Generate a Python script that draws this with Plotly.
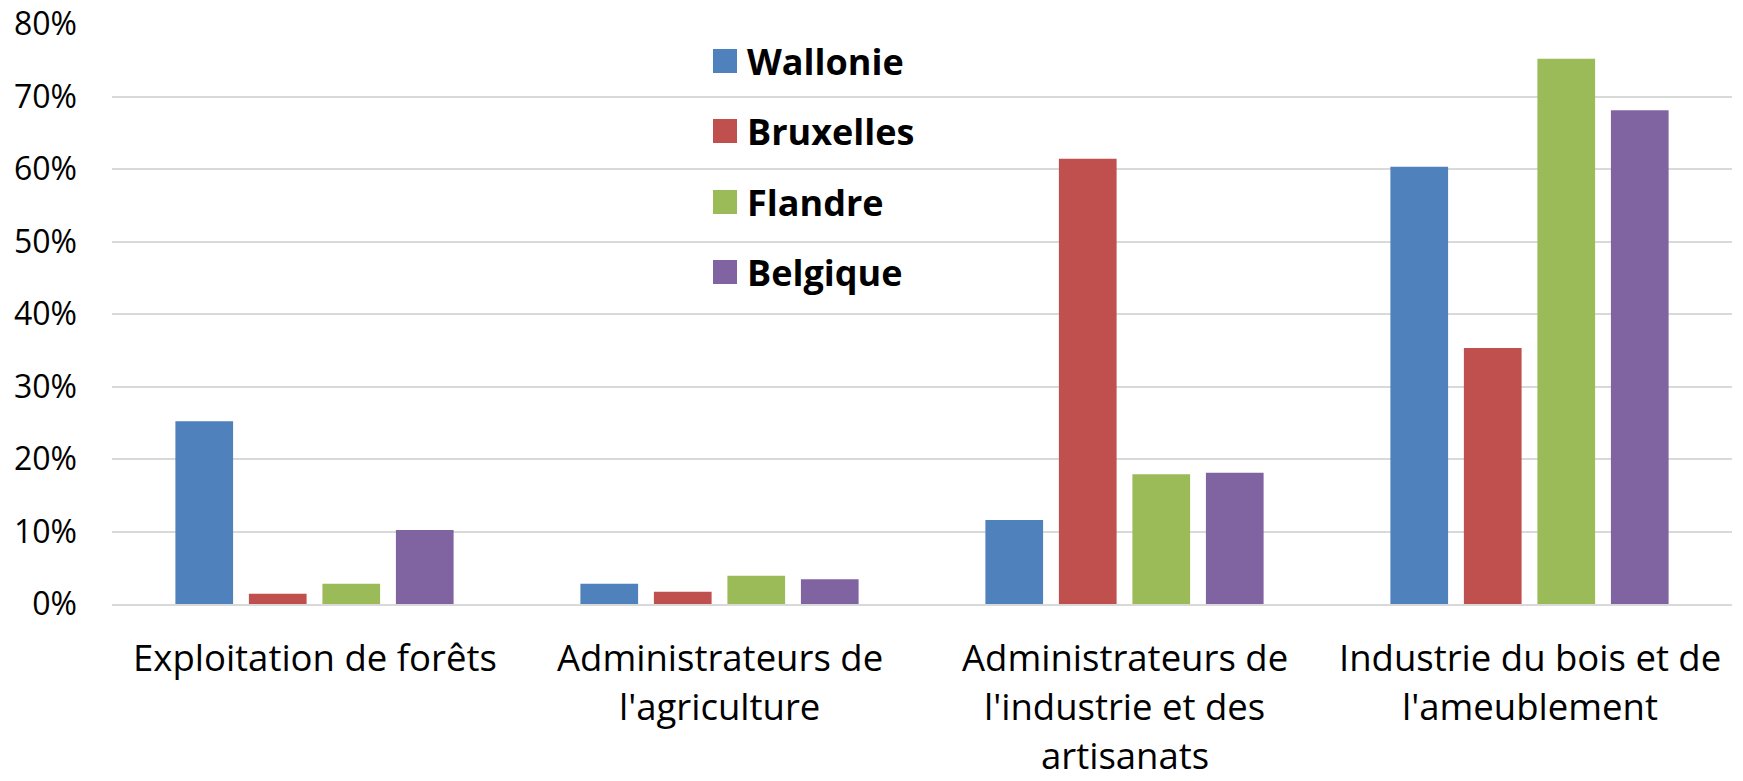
import plotly.graph_objects as go

# Category labels, one list entry per line of the label
categories = [
    "Exploitation de forêts",
    "Administrateurs de l'agriculture",
    "Administrateurs de l'industrie et des artisanats",
    "Industrie du bois et de l'ameublement",
]
category_lines = [
    ["Exploitation de forêts"],
    ["Administrateurs de", "l'agriculture"],
    ["Administrateurs de", "l'industrie et des", "artisanats"],
    ["Industrie du bois et de", "l'ameublement"],
]

# Share per region (fractions)
wallonie = [0.252, 0.028, 0.116, 0.603]
bruxelles = [0.014, 0.017, 0.614, 0.353]
flandre = [0.028, 0.039, 0.179, 0.752]
belgique = [0.102, 0.034, 0.181, 0.681]

series_names = ["Wallonie", "Bruxelles", "Flandre", "Belgique"]
series_values = [wallonie, bruxelles, flandre, belgique]
series_colors = ["#4F81BD", "#C0504D", "#9BBB59", "#8064A2"]

y_ticks = [0, 0.1, 0.2, 0.3, 0.4, 0.5, 0.6, 0.7, 0.8]

FONT = "Open Sans"
W, H = 1743, 781
M_L, M_R, M_T, M_B = 112, 11, 24, 177

fig = go.Figure()
for name, vals, col in zip(series_names, series_values, series_colors):
    fig.add_trace(go.Bar(
        x=categories, y=vals, name=name,
        marker=dict(color=col, line=dict(width=0)),
        showlegend=False,
    ))

# Category labels under the axis, one annotation per line
LABEL_SIZE = 36.5
first_line_shift, line_step = -53, 49
for cat, lines in zip(categories, category_lines):
    for i, line in enumerate(lines):
        fig.add_annotation(x=cat, y=0, xref="x", yref="y",
                           text=line, showarrow=False,
                           xanchor="center", yanchor="middle",
                           yshift=first_line_shift - i * line_step,
                           font=dict(family=FONT, size=LABEL_SIZE, color="black"))

# Legend drawn as coloured squares with bold labels
plot_w = W - M_L - M_R
plot_h = H - M_T - M_B
leg_left_px, sq = 713, 24
leg_tops_px = [49, 119, 190, 260]
for name, col, top in zip(series_names, series_colors, leg_tops_px):
    x0 = (leg_left_px - M_L) / plot_w
    x1 = (leg_left_px + sq - M_L) / plot_w
    y1 = 1 - (top - M_T) / plot_h
    y0 = 1 - (top + sq - M_T) / plot_h
    fig.add_shape(type="rect", xref="paper", yref="paper",
                  x0=x0, x1=x1, y0=y0, y1=y1,
                  fillcolor=col, line=dict(width=0), layer="above")
    fig.add_annotation(xref="paper", yref="paper",
                       x=(leg_left_px + sq + 8 - M_L) / plot_w,
                       y=(y0 + y1) / 2,
                       text=f"<b>{name}</b>", showarrow=False,
                       xanchor="left", yanchor="middle",
                       font=dict(family=FONT, size=36, color="black"))

fig.update_layout(
    width=W, height=H,
    margin=dict(l=M_L, r=M_R, t=M_T, b=M_B, pad=0, autoexpand=False),
    paper_bgcolor="white", plot_bgcolor="white",
    barmode="group", bargap=0.274, bargroupgap=0.215,
    font=dict(family=FONT, size=32, color="black"),
)
fig.update_xaxes(
    showgrid=False, showline=True, linecolor="#D9D9D9", linewidth=2,
    ticks="", showticklabels=False, zeroline=False, automargin=False,
)
fig.update_yaxes(
    range=[0, 0.8], tickvals=y_ticks, tickformat=".0%",
    showgrid=True, gridcolor="#D9D9D9", gridwidth=2,
    zeroline=False, showline=False, ticks="", automargin=False,
    tickfont=dict(family=FONT, size=32, color="black"),
    ticklabelstandoff=34,
)

fig.write_html("out.html")
